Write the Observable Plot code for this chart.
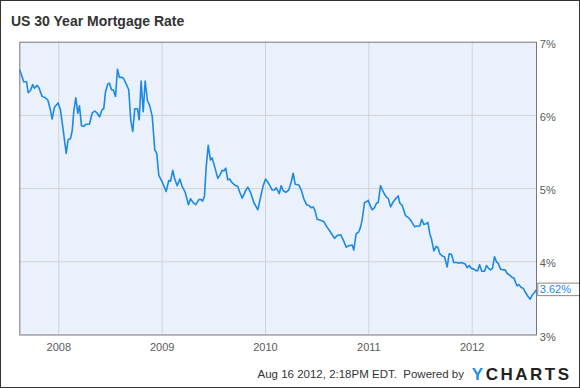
<!DOCTYPE html>
<html>
<head>
<meta charset="utf-8">
<script src="https://cdn.jsdelivr.net/npm/d3@7"></script>
<script src="https://cdn.jsdelivr.net/npm/@observablehq/plot@0.6"></script>
<style>
  html, body { margin: 0; padding: 0; background: #fff; }
  #chart { position: relative; width: 580px; height: 388px; box-sizing: border-box; border: 1px solid #333;
           font-family: "Liberation Sans", Arial, sans-serif; overflow: hidden; background: #fff; }
  #title { height: 33px; box-sizing: border-box; padding: 13px 0 0 10px; font-size: 14px; line-height: 14px;
           font-weight: bold; color: #333; }
  #plot svg { display: block; }
  #footer { position: relative; height: 33px; }
  #stamp { position: absolute; right: 115px; top: 15.3px; font-size: 11.5px; line-height: 1; color: #333; white-space: pre; }
  #logo { position: absolute; right: 7.5px; top: 11.6px; font-size: 17px; line-height: 1; font-weight: bold;
          letter-spacing: 2.5px; color: #222; }
  #logo .y { color: #1e8fe1; }
</style>
</head>
<body>
<div id="chart">
  <div id="title"></div>
  <div id="plot"></div>
  <div id="footer"><span id="stamp"></span><span id="logo"><span class="y">Y</span>CHARTS</span></div>
</div>
<script>
const titleText = "US 30 Year Mortgage Rate";
const stampText = "Aug 16 2012, 2:18PM EDT.  Powered by";

// decimal years (weekly-ish samples)
const years = [
  2007.623, 2007.661, 2007.688, 2007.704, 2007.726, 2007.748, 2007.765, 2007.791, 2007.807, 2007.839,
  2007.871, 2007.894, 2007.920, 2007.936, 2007.958, 2007.994, 2008.017, 2008.039, 2008.072, 2008.091,
  2008.113, 2008.130, 2008.145, 2008.165, 2008.184, 2008.200, 2008.220, 2008.242, 2008.265, 2008.297,
  2008.323, 2008.348, 2008.372, 2008.394, 2008.420, 2008.435, 2008.452, 2008.474, 2008.491, 2008.510,
  2008.526, 2008.549, 2008.568, 2008.587, 2008.614, 2008.629, 2008.652, 2008.677, 2008.697, 2008.716,
  2008.735, 2008.762, 2008.778, 2008.797, 2008.817, 2008.836, 2008.858, 2008.878, 2008.904, 2008.929,
  2008.948, 2008.968, 2008.994, 2009.016, 2009.039, 2009.064, 2009.081, 2009.103, 2009.122, 2009.146,
  2009.171, 2009.194, 2009.223, 2009.255, 2009.274, 2009.300, 2009.326, 2009.355, 2009.378, 2009.393,
  2009.410, 2009.426, 2009.446, 2009.468, 2009.484, 2009.510, 2009.539, 2009.558, 2009.581, 2009.597,
  2009.616, 2009.635, 2009.655, 2009.671, 2009.700, 2009.732, 2009.751, 2009.775, 2009.807, 2009.829,
  2009.855, 2009.887, 2009.926, 2009.952, 2009.978, 2010.000, 2010.022, 2010.042, 2010.065, 2010.087,
  2010.104, 2010.133, 2010.152, 2010.171, 2010.196, 2010.225, 2010.249, 2010.268, 2010.287, 2010.322,
  2010.346, 2010.371, 2010.397, 2010.419, 2010.442, 2010.461, 2010.477, 2010.500, 2010.525, 2010.564,
  2010.597, 2010.622, 2010.645, 2010.668, 2010.694, 2010.726, 2010.752, 2010.781, 2010.806, 2010.839,
  2010.854, 2010.877, 2010.903, 2010.919, 2010.936, 2010.958, 2010.977, 2010.994, 2011.009, 2011.032,
  2011.055, 2011.074, 2011.091, 2011.113, 2011.132, 2011.149, 2011.171, 2011.187, 2011.210, 2011.232,
  2011.258, 2011.284, 2011.300, 2011.323, 2011.355, 2011.387, 2011.413, 2011.442, 2011.468, 2011.493,
  2011.512, 2011.532, 2011.555, 2011.571, 2011.590, 2011.606, 2011.629, 2011.652, 2011.667, 2011.687,
  2011.710, 2011.732, 2011.758, 2011.777, 2011.800, 2011.822, 2011.848, 2011.871, 2011.894, 2011.913,
  2011.932, 2011.952, 2011.971, 2011.993, 2012.016, 2012.035, 2012.054, 2012.071, 2012.093, 2012.119,
  2012.138, 2012.158, 2012.177, 2012.196, 2012.216, 2012.235, 2012.252, 2012.274, 2012.296, 2012.319,
  2012.339, 2012.361, 2012.383, 2012.403, 2012.419, 2012.435, 2012.451, 2012.474, 2012.493, 2012.516,
  2012.538, 2012.561, 2012.583, 2012.603, 2012.622
];

// 30-year mortgage rate, percent
const rates = [
  6.62, 6.46, 6.46, 6.31, 6.34, 6.42, 6.37, 6.41, 6.38, 6.26,
  6.24, 6.21, 6.07, 5.95, 6.11, 6.17, 6.07, 5.84, 5.48, 5.67,
  5.68, 5.79, 6.05, 6.24, 6.03, 6.13, 5.86, 5.85, 5.88, 5.88,
  6.03, 6.06, 6.03, 5.98, 6.08, 6.09, 6.32, 6.43, 6.44, 6.35,
  6.35, 6.26, 6.63, 6.52, 6.52, 6.50, 6.43, 6.35, 5.93, 5.78,
  6.09, 6.09, 5.94, 6.47, 6.05, 6.47, 6.20, 6.14, 5.99, 5.53,
  5.48, 5.18, 5.11, 5.04, 4.96, 5.11, 5.10, 5.25, 5.13, 5.04,
  5.13, 5.03, 4.95, 4.78, 4.86, 4.81, 4.78, 4.85, 4.85, 4.83,
  4.90, 5.29, 5.59, 5.39, 5.42, 5.29, 5.14, 5.18, 5.25, 5.24,
  5.28, 5.12, 5.13, 5.09, 5.05, 5.03, 4.95, 4.87, 4.97, 5.02,
  4.95, 4.81, 4.71, 4.88, 5.04, 5.13, 5.09, 5.04, 4.98, 4.98,
  5.01, 4.93, 5.04, 4.97, 4.95, 4.98, 5.09, 5.21, 5.06, 5.05,
  4.98, 4.86, 4.78, 4.77, 4.74, 4.75, 4.71, 4.58, 4.57, 4.55,
  4.47, 4.42, 4.37, 4.32, 4.36, 4.37, 4.30, 4.20, 4.22, 4.23,
  4.16, 4.38, 4.41, 4.47, 4.58, 4.81, 4.82, 4.84, 4.78, 4.71,
  4.74, 4.80, 4.81, 5.04, 4.98, 4.93, 4.88, 4.87, 4.75, 4.81,
  4.86, 4.90, 4.80, 4.77, 4.63, 4.60, 4.55, 4.48, 4.49, 4.49,
  4.58, 4.51, 4.52, 4.54, 4.38, 4.31, 4.15, 4.21, 4.20, 4.11,
  4.08, 4.07, 3.93, 4.11, 4.10, 3.99, 3.99, 3.98, 3.99, 3.98,
  3.97, 3.92, 3.95, 3.91, 3.90, 3.88, 3.88, 3.96, 3.87, 3.87,
  3.95, 3.91, 3.89, 3.91, 4.07, 4.00, 3.98, 3.90, 3.89, 3.89,
  3.84, 3.82, 3.79, 3.78, 3.72, 3.67, 3.69, 3.65, 3.64, 3.58,
  3.53, 3.49, 3.55, 3.58, 3.62
];

const xTicks = [2008, 2009, 2010, 2011, 2012];
const yTicks = [3, 4, 5, 6, 7];
const xDomain = [2007.623, 2012.622];
const yDomain = [3, 7];

document.getElementById("title").textContent = titleText;
document.getElementById("stamp").textContent = stampText;

const n = Math.min(years.length, rates.length);
const data = d3.range(n).map(i => ({t: years[i], r: rates[i]}));
const last = data[data.length - 1];
const blue = "#1b8ae6";

const svg = Plot.plot({
  width: 578,
  height: 320,
  marginLeft: 18.3,
  marginRight: 43,
  marginTop: 7.7,
  marginBottom: 19.5,
  x: {type: "linear", domain: xDomain},
  y: {domain: yDomain},
  style: {fontFamily: "Liberation Sans, Arial, sans-serif", fontSize: "11px", overflow: "visible", background: "transparent"},
  marks: [
    Plot.frame({fill: "#eaf1fc", stroke: null}),
    Plot.gridX(xTicks, {stroke: "#d2d2d2", strokeOpacity: 1}),
    Plot.gridY(yTicks.slice(1, -1), {stroke: "#d2d2d2", strokeOpacity: 1}),
    Plot.line(data, {x: "t", y: "r", stroke: blue, strokeWidth: 1.6}),
    Plot.frame({stroke: "#777"}),
    Plot.axisY(yTicks, {anchor: "right", tickSize: 0, tickPadding: 3.3, dy: 2,
                        tickFormat: d => d + "%", color: "#5a5a5a", label: null}),
    Plot.axisX(xTicks, {anchor: "bottom", tickSize: 0, tickPadding: 8,
                        tickFormat: d => String(d), color: "#5a5a5a", label: null}),
    Plot.text([last], {x: "t", y: "r", text: d => d.r.toFixed(2) + "%", textAnchor: "start",
                       dx: 3.3, fill: blue, ariaLabel: () => "last-value"})
  ]
});
document.getElementById("plot").appendChild(svg);

// white box with grey outline behind the last-value label
const txt = svg.querySelector('text[aria-label="last-value"]') ||
  Array.from(svg.querySelectorAll("text")).find(t => t.textContent === last.r.toFixed(2) + "%");
if (txt) {
  const bb = txt.getBBox();
  const rect = document.createElementNS("http://www.w3.org/2000/svg", "rect");
  rect.setAttribute("x", bb.x - 2);
  rect.setAttribute("y", bb.y);
  rect.setAttribute("width", bb.width + 12);
  rect.setAttribute("height", bb.height + 0.5);
  rect.setAttribute("fill", "#fff");
  rect.setAttribute("stroke", "#888");
  rect.setAttribute("stroke-width", 1);
  const tr = txt.getAttribute("transform");
  if (tr) rect.setAttribute("transform", tr);
  txt.parentNode.insertBefore(rect, txt);
}
</script>
</body>
</html>
